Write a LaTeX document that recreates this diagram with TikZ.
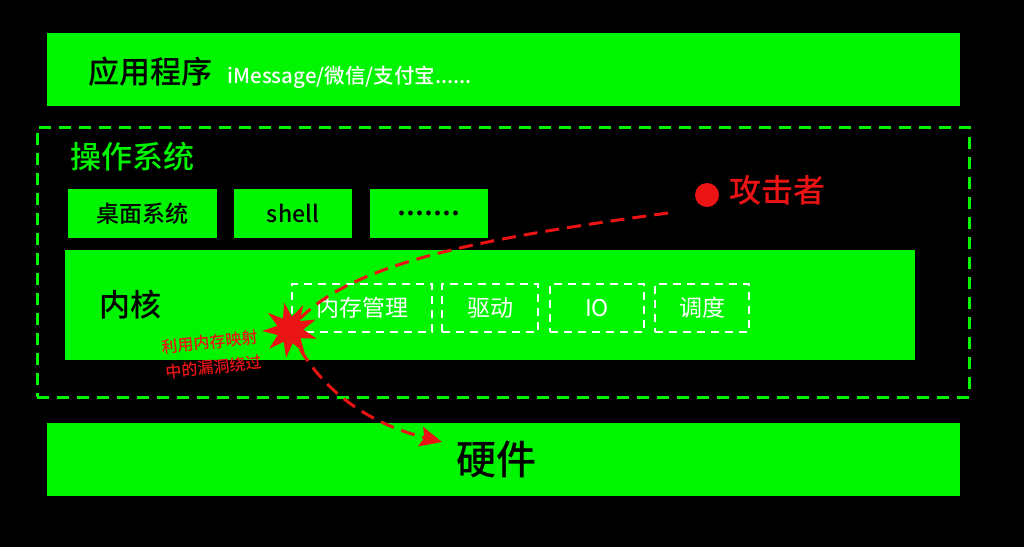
\documentclass[tikz,border=0pt]{standalone}
\usepackage{fontspec}
\setmainfont{Noto Sans CJK SC}[BoldFont={Noto Sans CJK SC Medium}]
\usetikzlibrary{arrows.meta,positioning,shapes.geometric}
\definecolor{osgreen}{RGB}{0,245,0}
\definecolor{atkred}{RGB}{235,20,20}
\tikzset{
    %Define style for green layer boxes
    layerbox/.style={
             fill=osgreen, inner sep=0pt, outer sep=0pt},
    %Define style for small boxes in the os layer
    osbox/.style={
             fill=osgreen, inner sep=0pt, outer sep=0pt,
             minimum width=118pt, minimum height=49pt,
             font=\bfseries\fontsize{23}{25}\selectfont},
    %Define style for kernel parts
    partbox/.style={
             draw=white, line width=2.5pt,
             dash pattern=on 8pt off 6pt,
             text=white, inner sep=0pt, outer sep=0pt,
             minimum height=48pt,
             font=\fontsize{23}{25}\selectfont},
    %Define style for the red note
    notetext/.style={
             text=atkred, rotate=6, inner sep=0pt,
             font=\bfseries\fontsize{16}{18}\selectfont},
    % Define arrow style
    atkarrow/.style={
            atkred,
            line width=3pt,
            dash pattern=on 14pt off 8pt}
}
\begin{document}
\begin{tikzpicture}[x=1pt, y=-1pt]
    \fill[black] (0,0) rectangle (1024,547);
    \useasboundingbox (0,0) rectangle (1024,547);
    % application layer
    \node[layerbox, minimum width=913pt, minimum height=73pt] (app) at (503.5,69.5) {};
    \node[anchor=west, font=\bfseries\fontsize{31}{33}\selectfont] (applbl) at (85,72) {应用程序};
    \node[anchor=base west, text=white, font=\bfseries\fontsize{20.5}{22}\selectfont] (appsub)
        at ([xshift=8pt]applbl.base east) {iMessage/微信/支付宝......};
    % operating system
    \node[draw=osgreen, line width=3pt, dash pattern=on 12pt off 8pt,
          minimum width=932pt, minimum height=270pt] (os) at (503,262) {};
    \node[anchor=west, text=osgreen, font=\bfseries\fontsize{31}{33}\selectfont] (oslbl) at (67,157) {操作系统};
    \node[osbox, minimum width=149pt] (desk) at (142.5,213.5) {桌面系统};
    \node[osbox, right=17pt of desk] (shell) {shell};
    \node[osbox, right=18pt of shell, font=\bfseries\fontsize{30}{25}\selectfont] (more) {.......};
    % kernel
    \node[layerbox, minimum width=850pt, minimum height=110pt] (kernel) at (490,305) {};
    \node[anchor=west, font=\bfseries\fontsize{31}{33}\selectfont] (kernlbl) at (96,305) {内核};
    \node[partbox, minimum width=140pt] (mem) at (362,308) {内存管理};
    \node[partbox, minimum width=96pt, right=10pt of mem] (drv) {驱动};
    \node[partbox, minimum width=94pt, right=12pt of drv] (io) {IO};
    \node[partbox, minimum width=94pt, right=11pt of io] (sched) {调度};
    % hardware
    \node[layerbox, minimum width=913pt, minimum height=73pt] (hw) at (503.5,459.5) {};
    \node[font=\bfseries\fontsize{40}{42}\selectfont] (hwlbl) at (496,459) {硬件};
    % attacker
    \node[circle, fill=atkred, minimum size=24pt, inner sep=0pt] (attacker) at (707,195) {};
    \node[anchor=west, text=atkred, font=\bfseries\fontsize{32}{34}\selectfont] (atklbl) at (726,190) {攻击者};
    \coordinate (atkstart) at (668,213);
    \node[star, star points=9, star point ratio=2.1, fill=atkred, inner sep=0pt,
          minimum size=56pt, rotate=12] (hole) at (290,330) {};
    \node[notetext] (note1) at (210,342) {利用内存映射};
    \node[notetext] (note2) at (214,367) {中的漏洞绕过};
    \coordinate (hwtip) at (442,442);
    \draw[atkarrow] (atkstart) .. controls (470,240) and (340,265) .. (hole.center);
    \draw[atkarrow, -{Stealth[length=22pt, width=20pt, inset=4pt]}]
        (hole.center) .. controls (320,395) and (375,425) .. (hwtip);
  \end{tikzpicture}
\end{document}
